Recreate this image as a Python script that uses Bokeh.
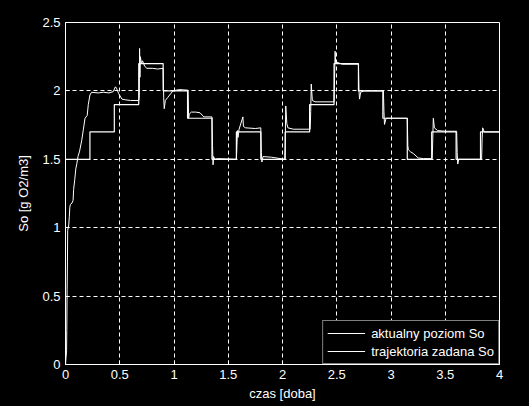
from bokeh.plotting import figure
from bokeh.embed import file_html
from bokeh.resources import INLINE
from bokeh.models import FixedTicker, Legend, LegendItem, Range1d

# --- data -------------------------------------------------------------
# measured dissolved oxygen (aktualny poziom So)
t_actual = [0.0, 0.005, 0.01, 0.012, 0.015, 0.018, 0.02, 0.03, 0.035, 0.04, 0.045,
            0.06, 0.07, 0.075, 0.085, 0.095, 0.105, 0.115, 0.13, 0.15, 0.165, 0.18,
            0.20, 0.21, 0.225, 0.24, 0.30, 0.35, 0.40, 0.44, 0.46, 0.47, 0.49, 0.52,
            0.55, 0.60, 0.675, 0.68, 0.683, 0.686, 0.69, 0.70, 0.71, 0.73, 0.75, 0.80,
            0.85, 0.90, 0.905, 0.91, 0.92, 0.94, 0.96, 0.99, 1.05, 1.13, 1.135, 1.14,
            1.16, 1.20, 1.24, 1.275, 1.35, 1.355, 1.36, 1.365, 1.375, 1.40, 1.575,
            1.58, 1.585, 1.59, 1.60, 1.635, 1.64, 1.66, 1.75, 1.80, 1.805, 1.81, 1.82,
            1.90, 2.02, 2.025, 2.03, 2.04, 2.05, 2.10, 2.255, 2.26, 2.265, 2.275, 2.30,
            2.475, 2.48, 2.485, 2.49, 2.50, 2.55, 2.70, 2.705, 2.71, 2.72, 2.75, 2.93,
            2.935, 2.94, 2.955, 3.00, 3.15, 3.155, 3.16, 3.18, 3.21, 3.25, 3.30, 3.38,
            3.385, 3.39, 3.40, 3.43, 3.50, 3.605, 3.61, 3.615, 3.625, 3.70, 3.835,
            3.84, 3.845, 3.86, 4.0]
so_actual = [0.0, 0.05, 0.10, 0.25, 0.55, 0.75, 0.98, 1.02, 1.08, 1.15, 1.17,
             1.18, 1.20, 1.28, 1.35, 1.43, 1.47, 1.52, 1.56, 1.64, 1.72, 1.80,
             1.82, 1.90, 1.97, 1.99, 1.985, 1.99, 1.985, 1.995, 2.03, 2.02, 1.98, 1.94,
             1.935, 1.93, 1.93, 1.95, 2.31, 2.10, 2.25, 2.20, 2.22, 2.18, 2.165, 2.165,
             2.16, 2.165, 1.95, 1.87, 1.93, 1.95, 1.97, 2.0, 2.01, 2.005, 1.80, 1.83,
             1.845, 1.845, 1.84, 1.81, 1.81, 1.60, 1.46, 1.52, 1.50, 1.505, 1.50,
             1.60, 1.71, 1.66, 1.72, 1.81, 1.74, 1.73, 1.725, 1.73, 1.55, 1.48, 1.52,
             1.515, 1.50, 1.60, 1.89, 1.76, 1.73, 1.72, 1.72, 1.85, 2.05, 1.93, 1.92,
             1.92, 2.10, 2.29, 2.20, 2.21, 2.195, 2.195, 2.0, 1.94, 1.99, 2.0, 2.0,
             1.85, 1.755, 1.80, 1.80, 1.80, 1.60, 1.57, 1.555, 1.54, 1.51, 1.505, 1.505,
             1.65, 1.80, 1.73, 1.71, 1.705, 1.705, 1.55, 1.465, 1.50, 1.50, 1.50,
             1.65, 1.73, 1.70, 1.70]

# setpoint trajectory (trajektoria zadana So), piecewise constant
t_setpoint = [0.0, 0.225, 0.45, 0.675, 0.9, 1.125, 1.35, 1.575, 1.8, 2.025,
              2.25, 2.475, 2.7, 2.925, 3.15, 3.375, 3.6, 3.825, 4.0]
so_setpoint = [1.5, 1.7, 1.9, 2.2, 2.0, 1.8, 1.5, 1.7, 1.5, 1.7,
               1.9, 2.2, 2.0, 1.8, 1.5, 1.7, 1.5, 1.7, 1.7]

x_ticks = [0, 0.5, 1, 1.5, 2, 2.5, 3, 3.5, 4]
y_ticks = [0, 0.5, 1, 1.5, 2, 2.5]
x_label = "czas [doba]"
y_label = "So [g O2/m3]"
legend_labels = ["aktualny poziom So", "trajektoria zadana So"]

# --- figure -----------------------------------------------------------
FONT = "Liberation Sans"
p = figure(width=529, height=406, output_backend="svg", toolbar_location=None,
           x_range=Range1d(0, 4), y_range=Range1d(0, 2.5),
           min_border_left=65, min_border_right=30, min_border_top=22,
           min_border_bottom=42)
p.background_fill_color = "black"
p.border_fill_color = "black"
p.outline_line_color = "white"
p.outline_line_width = 1

for ax in (p.xaxis[0], p.yaxis[0]):
    ax.axis_line_color = "white"
    ax.major_tick_line_color = "white"
    ax.minor_tick_line_color = None
    ax.major_tick_in = 4
    ax.major_tick_out = 0
    ax.major_label_text_color = "white"
    ax.major_label_text_font = FONT
    ax.major_label_text_font_size = "13px"
    ax.axis_label_text_color = "white"
    ax.axis_label_text_font = FONT
    ax.axis_label_text_font_size = "13px"
    ax.axis_label_text_font_style = "normal"

p.xaxis.ticker = FixedTicker(ticks=x_ticks)
p.yaxis.ticker = FixedTicker(ticks=y_ticks)
p.xaxis.major_label_overrides = {0: "0", 1: "1", 2: "2", 3: "3", 4: "4"}
p.yaxis.major_label_overrides = {0: "0", 1: "1", 2: "2"}
p.xaxis.axis_label = x_label
p.yaxis.axis_label = y_label
p.xaxis.major_label_standoff = 5
p.xaxis.axis_label_standoff = 4
p.yaxis.major_label_standoff = 5
p.yaxis.axis_label_standoff = 8

p.grid.grid_line_color = "white"
p.grid.grid_line_dash = "4 3"
p.grid.grid_line_width = 1

r1 = p.line(t_actual, so_actual, line_color="white", line_width=1)
r2 = p.step(t_setpoint, so_setpoint, mode="after", line_color="white", line_width=1.2)

legend = Legend(items=[LegendItem(label=legend_labels[0], renderers=[r1]),
                       LegendItem(label=legend_labels[1], renderers=[r2])],
                location="bottom_right")
legend.margin = 0
legend.padding = 4
legend.spacing = 2
legend.glyph_width = 38
legend.glyph_height = 16
legend.label_standoff = 6
legend.label_text_color = "white"
legend.label_text_font = FONT
legend.label_text_font_size = "13px"
legend.background_fill_color = "black"
legend.background_fill_alpha = 1
legend.border_line_color = "white"
legend.border_line_width = 1
p.add_layout(legend)

html = file_html(p, INLINE)
html = html.replace("</head>", "<style>html,body{background:#000;}</style></head>", 1)
open("out.html", "w").write(html)
